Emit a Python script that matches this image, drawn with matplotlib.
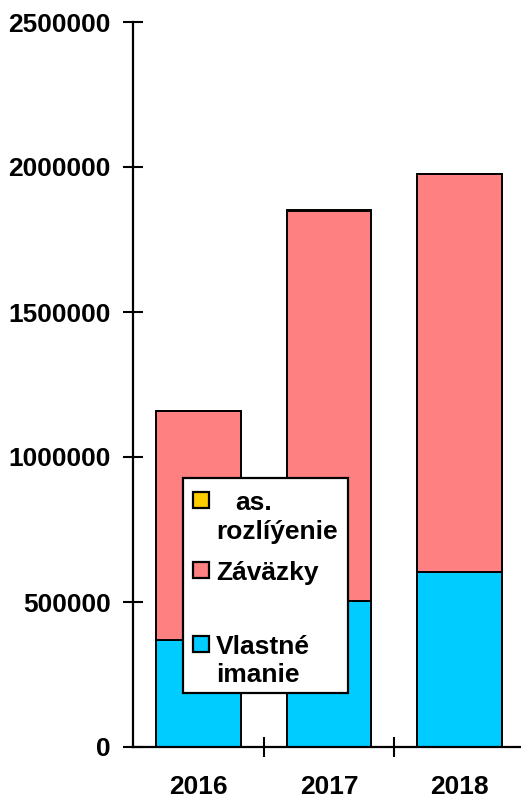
import matplotlib.pyplot as plt
from matplotlib.patches import Rectangle

# data
years = ["2016", "2017", "2018"]
vlastne_imanie = [370000, 502000, 603000]
zavazky = [790000, 1348000, 1372000]
casove_rozlisenie = [0, 0, 0]

labels = ["Vlastné\nimanie", "Záväzky", "as.\nrozlíýenie"]
colors = ["#00CCFF", "#FF8080", "#FFCC00"]

plt.rcParams["font.family"] = ["Liberation Sans", "DejaVu Sans"]
plt.rcParams["font.weight"] = "bold"

fig = plt.figure(figsize=(5.21, 7.99), dpi=100)
ax = fig.add_axes([133 / 521, 1 - 747 / 799, (525 - 133) / 521, (747 - 22) / 799])

x = range(len(years))
bottom = [0, 0, 0]
for vals, col in zip([vlastne_imanie, zavazky, casove_rozlisenie], colors):
    ax.bar(x, vals, width=0.65, bottom=bottom, color=col, edgecolor="black", linewidth=1.4)
    bottom = [b + v for b, v in zip(bottom, vals)]

ax.set_xlim(-0.5, 2.5)
ax.set_ylim(0, 2500000)
ax.set_yticks([0, 500000, 1000000, 1500000, 2000000, 2500000])
ax.set_yticklabels(["0", "500000", "1000000", "1500000", "2000000", "2500000"])
ax.set_xticks(list(x))
ax.set_xticklabels(years)
ax.set_xticks([0.5, 1.5], minor=True)

for s in ["top", "right"]:
    ax.spines[s].set_visible(False)
ax.spines["left"].set_linewidth(1.6)
ax.spines["bottom"].set_linewidth(1.6)

ax.tick_params(axis="y", direction="inout", length=14, width=1.5, labelsize=19, pad=9)
ax.tick_params(axis="x", which="major", length=0, labelsize=19, pad=20)
ax.tick_params(axis="x", which="minor", direction="inout", length=14, width=1.5)

# legend box drawn by hand to match the irregular spacing
W, H = 521, 799


def fx(px):
    return px / W


def fy(py):
    return 1 - py / H


box = Rectangle((fx(183), fy(693)), fx(348) - fx(183), fy(478) - fy(693),
                transform=fig.transFigure, facecolor="white", edgecolor="black",
                linewidth=1.6, zorder=5)
fig.patches.append(box)

entries = [
    (colors[2], 500, [("as.", 235, 503), ("rozlíýenie", 216, 532)]),
    (colors[1], 570, [("Záväzky", 216, 573)]),
    (colors[0], 644, [("Vlastné", 216, 647), ("imanie", 216, 675)]),
]
sq = 16
for col, cy, texts in entries:
    fig.patches.append(Rectangle((fx(193), fy(cy + sq / 2)), sq / W, sq / H,
                                 transform=fig.transFigure, facecolor=col,
                                 edgecolor="black", linewidth=1.6, zorder=6))
    for t, tx, ty in texts:
        fig.text(fx(tx), fy(ty), t, fontsize=19, fontweight="bold",
                 ha="left", va="center", zorder=7)

fig.savefig("out.png", dpi=100)
